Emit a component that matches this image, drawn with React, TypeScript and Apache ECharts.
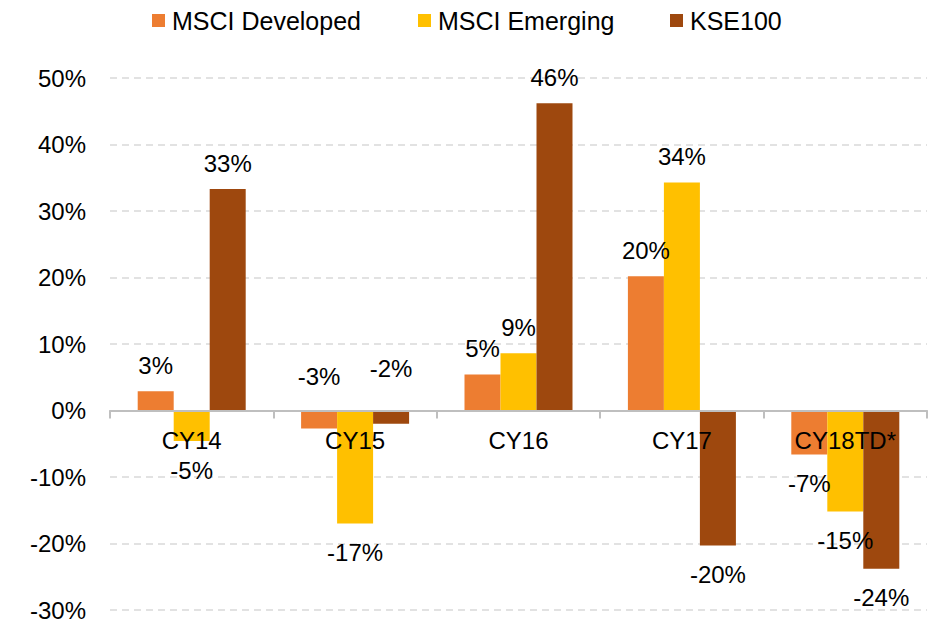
import React, { useEffect, useRef } from "react";
import * as echarts from "echarts";

const categories = ["CY14", "CY15", "CY16", "CY17", "CY18TD*"];
const msciDeveloped = [2.9, -2.7, 5.4, 20.2, -6.6];
const msciEmerging = [-4.6, -17.0, 8.6, 34.3, -15.2];
const kse100 = [33.3, -2.0, 46.2, -20.3, -23.8];
const labelDeveloped = ["3%", "-3%", "5%", "20%", "-7%"];
const labelEmerging = ["-5%", "-17%", "9%", "34%", "-15%"];
const labelKse = ["33%", "-2%", "46%", "-20%", "-24%"];
// labels that sit above the zero line although their bar is negative (small CY15 values)
const aboveDeveloped = [false, true, false, false, false];
const aboveEmerging = [false, false, false, false, false];
const aboveKse = [false, true, false, false, false];
const seriesNames = ["MSCI Developed", "MSCI Emerging", "KSE100"];
const colors = ["#ED7D31", "#FFC000", "#9E480E"];
const legendLefts = [152, 418, 670];
const yMin = -30;
const yMax = 50;

const FONT = "'Liberation Sans', Arial, Helvetica, sans-serif";

function buildData(values: number[], labels: string[], above: boolean[], aboveDist: number) {
  return values.map((v, i) => {
    const up = v >= 0 || above[i];
    return {
      value: v,
      label: {
        show: true,
        position: up ? "top" : "bottom",
        distance: v >= 0 ? 14 : up ? aboveDist : 17,
        formatter: labels[i],
        color: "#000",
        fontSize: 24,
        fontFamily: FONT,
      },
    };
  });
}

export default function App() {
  const ref = useRef<HTMLDivElement>(null);
  useEffect(() => {
    if (!ref.current) return;
    const chart = echarts.init(ref.current, null, { renderer: "svg" });
    const allData = [
      buildData(msciDeveloped, labelDeveloped, aboveDeveloped, 22),
      buildData(msciEmerging, labelEmerging, aboveEmerging, 22),
      buildData(kse100, labelKse, aboveKse, 30),
    ];
    const gridTop = 78;
    const gridBottom = 14;
    const plotH = 624 - gridTop - gridBottom;
    const zeroOffset = plotH * (0 - yMin) / (yMax - yMin);
    chart.setOption({
      animation: false,
      backgroundColor: "#fff",
      textStyle: { fontFamily: FONT },
      legend: seriesNames.map((n, i) => ({
        data: [n],
        left: legendLefts[i],
        top: 8,
        padding: 0,
        itemWidth: 13,
        itemHeight: 13,
        icon: "rect",
        textStyle: { fontSize: 25, color: "#000", fontFamily: FONT, padding: [0, 0, 0, 2] },
      })),
      grid: { left: 110, right: 18, top: gridTop, bottom: gridBottom, containLabel: false, outerBoundsMode: "none" },
      xAxis: {
        type: "category",
        data: categories,
        offset: -zeroOffset,
        axisLine: { onZero: false, lineStyle: { color: "#bfbfbf", width: 2 } },
        axisTick: { show: true, length: 8, lineStyle: { color: "#bfbfbf", width: 2 } },
        axisLabel: { color: "#000", fontSize: 24, fontFamily: FONT, margin: 18 },
        z: 10,
      },
      yAxis: {
        type: "value",
        min: yMin,
        max: yMax,
        interval: 10,
        axisLine: { show: false },
        axisTick: { show: false },
        axisLabel: { formatter: "{value}%", color: "#000", fontSize: 24, fontFamily: FONT, margin: 24 },
        splitLine: { lineStyle: { color: "#d9d9d9", width: 1.5, type: [7, 5] } },
      },
      series: seriesNames.map((n, i) => ({
        name: n,
        type: "bar",
        barWidth: 36,
        barGap: "0%",
        itemStyle: { color: colors[i] },
        data: allData[i],
      })),
    });
    return () => chart.dispose();
  }, []);
  return (
    <div
      ref={ref}
      style={{ position: "fixed", left: 0, top: 0, width: 945, height: 624, background: "#fff" }}
    />
  );
}
